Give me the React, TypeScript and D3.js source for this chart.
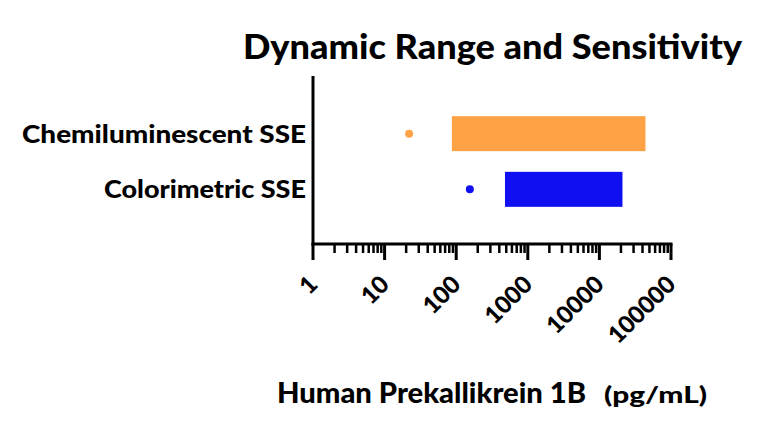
import React, { useRef, useEffect } from "react";
import * as d3 from "d3";

const categories = ["Chemiluminescent SSE", "Colorimetric SSE"];
const sensitivity = [22, 155];
const rangeLow = [87, 480];
const rangeHigh = [44000, 21000];
const colors = ["#FFA245", "#0F0FF2"];
const majorTicks = [1, 10, 100, 1000, 10000, 100000];
const tickLabels = ["1", "10", "100", "1000", "10000", "100000"];

const W = 768;
const H = 433;
const FONT = "Lato, 'DejaVu Sans', sans-serif";

const App: React.FC = () => {
  const svgRef = useRef<SVGSVGElement | null>(null);

  useEffect(() => {
    if (!svgRef.current) return;
    const svg = d3.select(svgRef.current);
    svg.selectAll("*").remove();

    const x = d3.scaleLog().domain([1, 100000]).range([313, 671]);
    const y = d3.scalePoint<string>().domain(categories).range([78, 245]).padding(1);
    const axisY = 244;
    const barH = 35;

    // title
    svg
      .append("text")
      .attr("x", 243)
      .attr("y", 59)
      .attr("font-family", FONT)
      .attr("font-weight", 900)
      .attr("font-size", 35)
      .attr("textLength", 499)
      .attr("lengthAdjust", "spacingAndGlyphs")
      .text("Dynamic Range and Sensitivity");

    // bars
    svg
      .selectAll("rect.range")
      .data(categories)
      .enter()
      .append("rect")
      .attr("x", (d, i) => x(rangeLow[i]))
      .attr("y", (d) => (y(d) as number) - barH / 2)
      .attr("width", (d, i) => x(rangeHigh[i]) - x(rangeLow[i]))
      .attr("height", barH)
      .attr("fill", (d, i) => colors[i]);

    // sensitivity dots
    svg
      .selectAll("circle.sens")
      .data(categories)
      .enter()
      .append("circle")
      .attr("cx", (d, i) => x(sensitivity[i]))
      .attr("cy", (d) => y(d) as number)
      .attr("r", 4)
      .attr("fill", (d, i) => colors[i]);

    // category labels
    svg
      .selectAll("text.cat")
      .data(categories)
      .enter()
      .append("text")
      .attr("x", 306)
      .attr("y", (d) => (y(d) as number) + 9)
      .attr("text-anchor", "end")
      .attr("font-family", FONT)
      .attr("font-weight", 900)
      .attr("font-size", 25)
      .attr("textLength", (d, i) => (i === 0 ? 284 : 202))
      .attr("lengthAdjust", "spacingAndGlyphs")
      .text((d) => d);

    // y axis line
    svg
      .append("line")
      .attr("x1", 313)
      .attr("x2", 313)
      .attr("y1", 76)
      .attr("y2", axisY + 1.5)
      .attr("stroke", "#000")
      .attr("stroke-width", 3);

    // x axis line
    svg
      .append("line")
      .attr("x1", 311.5)
      .attr("x2", 672.5)
      .attr("y1", axisY)
      .attr("y2", axisY)
      .attr("stroke", "#000")
      .attr("stroke-width", 3);

    const minor: number[] = [];
    majorTicks.slice(0, -1).forEach((m) => {
      for (let k = 2; k <= 9; k++) minor.push(m * k);
    });

    svg
      .selectAll("line.minor")
      .data(minor)
      .enter()
      .append("line")
      .attr("x1", (d) => x(d))
      .attr("x2", (d) => x(d))
      .attr("y1", axisY)
      .attr("y2", axisY + 9)
      .attr("stroke", "#000")
      .attr("stroke-width", 2.5);

    svg
      .selectAll("line.major")
      .data(majorTicks)
      .enter()
      .append("line")
      .attr("x1", (d) => x(d))
      .attr("x2", (d) => x(d))
      .attr("y1", axisY)
      .attr("y2", axisY + 16)
      .attr("stroke", "#000")
      .attr("stroke-width", 3);

    svg
      .selectAll("text.tick")
      .data(majorTicks)
      .enter()
      .append("text")
      .attr("transform", (d) => `translate(${x(d) + 6},286) rotate(-45)`)
      .attr("text-anchor", "end")
      .attr("font-family", FONT)
      .attr("font-weight", 900)
      .attr("font-size", 24)
      .text((d, i) => tickLabels[i]);

    // x axis title
    svg
      .append("text")
      .attr("x", 277)
      .attr("y", 403)
      .attr("font-family", FONT)
      .attr("font-weight", 900)
      .attr("font-size", 28)
      .attr("textLength", 309)
      .attr("lengthAdjust", "spacingAndGlyphs")
      .text("Human Prekallikrein 1B");
    svg
      .append("text")
      .attr("x", 604)
      .attr("y", 403)
      .attr("font-family", FONT)
      .attr("font-weight", 900)
      .attr("font-size", 23)
      .attr("textLength", 103)
      .attr("lengthAdjust", "spacingAndGlyphs")
      .text("(pg/mL)");
  }, []);

  return (
    <svg
      ref={svgRef}
      width={W}
      height={H}
      style={{ position: "absolute", left: 0, top: 0, background: "#fff" }}
    ></svg>
  );
};

export default App;
